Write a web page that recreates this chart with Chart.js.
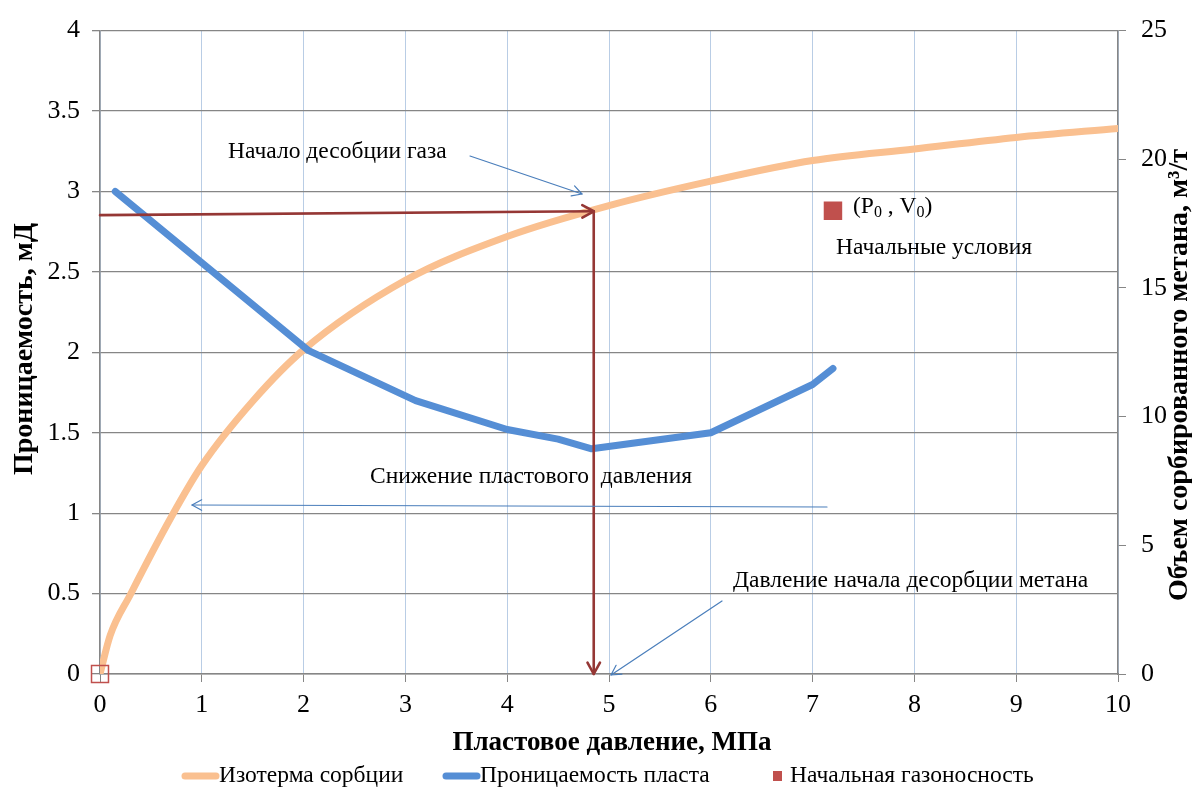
<!DOCTYPE html>
<html>
<head>
<meta charset="utf-8">
<script src="https://cdn.jsdelivr.net/npm/chart.js@4/dist/chart.umd.min.js"></script>
<style>
  html, body { margin: 0; padding: 0; background: #fff; }
  #wrap { width: 1192px; height: 789px; position: relative; }
</style>
</head>
<body>
<div id="wrap"><canvas id="c" width="1192" height="789"></canvas></div>
<script>
// Sorption isotherm: reservoir pressure (MPa) vs sorbed methane volume (m3/t)
const isothermPressure = [0, 0.1, 0.3, 0.7, 1.0, 1.5, 2, 3, 4, 5, 6, 7, 8, 9, 10];
const isothermVolume   = [0, 1.5, 3.1, 6.1, 8.1, 10.6, 12.6, 15.3, 17.0, 18.2, 19.15, 19.95, 20.4, 20.85, 21.2];

// Seam permeability (mD) vs reservoir pressure (MPa)
const permPressure = [0.15, 2.05, 3.1, 4.0, 4.5, 4.83, 6.0, 7.0, 7.2];
const permValues   = [3.0, 2.01, 1.7, 1.52, 1.46, 1.4, 1.5, 1.8, 1.9];

// Initial gas content points (P, V)
const gasPressure = [0, 7.2];
const gasVolume   = [0, 18.0];

// Desorption onset used by the dark red guide arrows
const desorbPressure = 4.85;
const desorbVolume = 17.98;
const guideStartVolume = 17.83;

// Tick values
const xTicks = [0, 1, 2, 3, 4, 5, 6, 7, 8, 9, 10];
const leftTicks = [0, 0.5, 1, 1.5, 2, 2.5, 3, 3.5, 4];
const rightTicks = [0, 5, 10, 15, 20, 25];

const legendLabels = ['Изотерма сорбции', 'Проницаемость пласта', 'Начальная газоносность'];

const SERIF = '"Liberation Serif", "Times New Roman", serif';
const ORANGE = '#fac090';
const BLUE = '#558ed5';
const RED = '#c0504d';
const DARKRED = '#953735';
const ARROWBLUE = '#4a7ebb';
const GRID = '#868686';
const VGRID = '#b9cde5';

const zip = (xs, ys) => xs.map((x, i) => ({ x: x, y: ys[i] }));

function arrowHead(ctx, x1, y1, x2, y2, size) {
  const a = Math.atan2(y2 - y1, x2 - x1);
  ctx.beginPath();
  ctx.moveTo(x2 - size * Math.cos(a - 0.5), y2 - size * Math.sin(a - 0.5));
  ctx.lineTo(x2, y2);
  ctx.lineTo(x2 - size * Math.cos(a + 0.5), y2 - size * Math.sin(a + 0.5));
  ctx.stroke();
}

function arrow(ctx, x1, y1, x2, y2, color, width, size) {
  ctx.save();
  ctx.strokeStyle = color;
  ctx.lineWidth = width;
  ctx.lineCap = 'round';
  ctx.lineJoin = 'round';
  ctx.beginPath();
  ctx.moveTo(x1, y1);
  ctx.lineTo(x2, y2);
  ctx.stroke();
  arrowHead(ctx, x1, y1, x2, y2, size);
  ctx.restore();
}

const decorations = {
  id: 'decorations',
  afterDatasetsDraw(chart) {
    const ctx = chart.ctx;
    const sx = chart.scales.x, sr = chart.scales.yR;

    // Dark red guide arrows to the desorption onset and down to the pressure axis
    const px0 = sx.getPixelForValue(0), py0 = sr.getPixelForValue(guideStartVolume);
    const pxd = sx.getPixelForValue(desorbPressure), pyd = sr.getPixelForValue(desorbVolume);
    const pyb = sr.getPixelForValue(0);
    arrow(ctx, px0, py0, pxd, pyd, DARKRED, 2.6, 13);
    arrow(ctx, pxd, pyd, pxd, pyb, DARKRED, 2.6, 13);

    // Thin blue callout arrows
    arrow(ctx, 470, 156, 582, 194, ARROWBLUE, 1.2, 11);
    arrow(ctx, 827, 507, 192, 505, ARROWBLUE, 1.2, 11);
    arrow(ctx, 722, 601, 611, 675, ARROWBLUE, 1.2, 11);

    ctx.save();
    ctx.fillStyle = '#000';
    ctx.textBaseline = 'middle';
    ctx.textAlign = 'left';
    ctx.font = '23.5px ' + SERIF;
    ctx.fillText('Начало десобции газа', 228, 152);
    ctx.fillText('Снижение пластового  давления', 370, 477);
    ctx.fillText('Давление начала десорбции метана', 733, 581);
    ctx.fillText('Начальные условия', 836, 248);

    // (P0 , V0) with subscripts
    let x = 853;
    const y = 207;
    const parts = [['(P', false], ['0', true], [' , V', false], ['0', true], [')', false]];
    parts.forEach(([t, sub]) => {
      ctx.font = (sub ? '16px ' : '23.5px ') + SERIF;
      ctx.fillText(t, x, sub ? y + 6 : y);
      x += ctx.measureText(t).width;
    });
    ctx.restore();
  },
  afterDraw(chart) {
    const ctx = chart.ctx;
    ctx.save();
    ctx.fillStyle = '#000';
    ctx.textBaseline = 'middle';
    ctx.textAlign = 'center';
    ctx.font = 'bold 27px ' + SERIF;
    ctx.fillText('Пластовое давление, МПа', 612, 743);

    ctx.font = 'bold 28px ' + SERIF;
    ctx.save();
    ctx.translate(25, 349);
    ctx.rotate(-Math.PI / 2);
    ctx.fillText('Проницаемость, мД', 0, 0);
    ctx.restore();

    ctx.save();
    ctx.translate(1180, 375);
    ctx.rotate(-Math.PI / 2);
    ctx.fillText('Объем сорбированного метана, м³/т', 0, 0);
    ctx.restore();

    // Legend
    const ly = 776;
    ctx.textAlign = 'left';
    ctx.font = '23.5px ' + SERIF;
    ctx.lineCap = 'round';
    ctx.lineWidth = 7;
    ctx.strokeStyle = ORANGE;
    ctx.beginPath(); ctx.moveTo(185, ly); ctx.lineTo(216, ly); ctx.stroke();
    ctx.fillText(legendLabels[0], 219, ly);
    ctx.strokeStyle = BLUE;
    ctx.beginPath(); ctx.moveTo(446, ly); ctx.lineTo(477, ly); ctx.stroke();
    ctx.fillText(legendLabels[1], 480, ly);
    ctx.fillStyle = RED;
    ctx.fillRect(773, ly - 5, 9, 10);
    ctx.fillStyle = '#000';
    ctx.fillText(legendLabels[2], 790, ly);
    ctx.restore();
  }
};

const tickFont = { family: SERIF, size: 26 };
const plainLabel = v => String(v);

new Chart(document.getElementById('c'), {
  type: 'line',
  data: {
    datasets: [
      {
        label: legendLabels[0],
        data: zip(isothermPressure, isothermVolume),
        yAxisID: 'yR',
        borderColor: ORANGE,
        backgroundColor: ORANGE,
        borderWidth: 7,
        pointRadius: 0,
        cubicInterpolationMode: 'monotone',
        borderCapStyle: 'round',
        order: 3
      },
      {
        label: legendLabels[1],
        data: zip(permPressure, permValues),
        yAxisID: 'yL',
        borderColor: BLUE,
        backgroundColor: BLUE,
        borderWidth: 7,
        pointRadius: 0,
        tension: 0,
        borderCapStyle: 'round',
        borderJoinStyle: 'round',
        order: 2
      },
      {
        label: legendLabels[2],
        data: zip(gasPressure, gasVolume),
        yAxisID: 'yR',
        showLine: false,
        clip: false,
        pointStyle: 'rect',
        pointRadius: 12,
        pointBorderWidth: 1.5,
        pointBorderColor: RED,
        pointBackgroundColor: ['rgba(0,0,0,0)', RED],
        order: 1
      }
    ]
  },
  options: {
    responsive: false,
    animation: false,
    layout: { padding: { top: 24, left: 0, right: 0, bottom: 0 } },
    plugins: { legend: { display: false }, tooltip: { enabled: false } },
    scales: {
      x: {
        type: 'linear',
        min: 0, max: 10,
        afterBuildTicks: s => { s.ticks = xTicks.map(v => ({ value: v })); },
        afterFit: s => { s.height = 115; },
        ticks: { font: tickFont, color: '#000', padding: 8, maxRotation: 0, callback: plainLabel },
        grid: { color: VGRID, lineWidth: 1, tickColor: GRID, tickLength: 8 },
        border: { color: GRID, width: 1.5 }
      },
      yL: {
        type: 'linear',
        position: 'left',
        min: 0, max: 4,
        afterBuildTicks: s => { s.ticks = leftTicks.map(v => ({ value: v })); },
        afterFit: s => { s.width = 100; },
        ticks: { font: tickFont, color: '#000', padding: 12, callback: plainLabel },
        grid: { color: GRID, lineWidth: 1.3, tickColor: GRID, tickLength: 8 },
        border: { color: GRID, width: 1.5 }
      },
      yR: {
        type: 'linear',
        position: 'right',
        min: 0, max: 25,
        afterBuildTicks: s => { s.ticks = rightTicks.map(v => ({ value: v })); },
        afterFit: s => { s.width = 74; },
        ticks: { font: tickFont, color: '#000', padding: 15, callback: plainLabel },
        grid: { drawOnChartArea: false, tickColor: GRID, tickLength: 8 },
        border: { color: GRID, width: 1.5 }
      }
    }
  },
  plugins: [decorations]
});
</script>
</body>
</html>
